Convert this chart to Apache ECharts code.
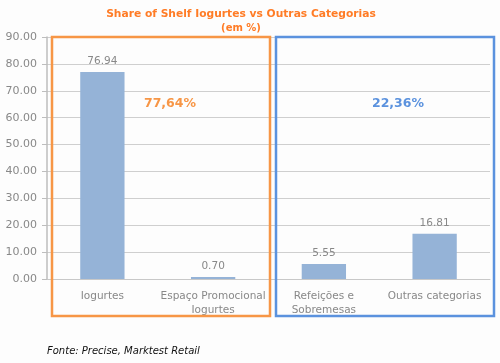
<!DOCTYPE html>
<html><head><meta charset="utf-8">
<script src="https://cdn.jsdelivr.net/npm/echarts@6/dist/echarts.min.js"></script>
<style>html,body{margin:0;padding:0;background:#fdfdfd}#c{width:500px;height:363px}</style>
</head><body><div id="c"></div>
<script>
const categories = ['Iogurtes', 'Espaço Promocional\nIogurtes', 'Refeições e\nSobremesas', 'Outras categorias'];
const values = [76.94, 0.70, 5.55, 16.81];
const groupLabels = ['77,64%', '22,36%'];
const yTicks = {min: 0, max: 90, interval: 10};

const chart = echarts.init(document.getElementById('c'));
const font = '"DejaVu Sans", Verdana, sans-serif';
chart.setOption({
  backgroundColor: '#fdfdfd',
  animation: false,
  grid: {left: 47, right: 10, top: 37, bottom: 84},
  xAxis: {
    type: 'category', data: categories,
    axisLine: {lineStyle: {color: '#c8c8c8', width: 1}},
    axisTick: {show: false},
    axisLabel: {color: '#888', fontSize: 10.5, fontFamily: font, margin: 10, lineHeight: 14, interval: 0}
  },
  yAxis: {
    type: 'value', min: yTicks.min, max: yTicks.max, interval: yTicks.interval,
    axisLine: {show: true, lineStyle: {color: '#bdbdbd', width: 1.5}},
    axisTick: {show: true, length: 5, lineStyle: {color: '#bdbdbd'}},
    splitLine: {lineStyle: {color: '#cfcfcf', width: 1}},
    axisLabel: {color: '#888', fontSize: 11, fontFamily: font, margin: 10,
      formatter: v => v.toFixed(2)}
  },
  series: [{
    type: 'bar', data: values, barWidth: '40%',
    itemStyle: {color: '#95b3d7'},
    label: {show: true, position: 'top', color: '#888', fontSize: 10.5, fontFamily: font, distance: 5,
      formatter: p => p.value.toFixed(2)}
  }],
  graphic: [
    {type: 'text', x: 241, y: 14, style: {text: 'Share of Shelf Iogurtes vs Outras Categorias', fill: '#ff7c26', font: 'bold 10.7px ' + font, textAlign: 'center', textVerticalAlign: 'middle'}, z: 100},
    {type: 'text', x: 241, y: 28, style: {text: '(em %)', fill: '#ff7c26', font: 'bold 10px ' + font, textAlign: 'center', textVerticalAlign: 'middle'}, z: 100},
    {type: 'rect', shape: {x: 52, y: 37, width: 218, height: 279}, style: {fill: 'none', stroke: '#f79646', lineWidth: 2.5}, z: 100},
    {type: 'rect', shape: {x: 276, y: 37, width: 218, height: 279}, style: {fill: 'none', stroke: '#5b92de', lineWidth: 2.5}, z: 100},
    {type: 'text', x: 170, y: 104, style: {text: groupLabels[0], fill: '#f79646', font: 'bold 12.5px ' + font, textAlign: 'center', textVerticalAlign: 'middle'}, z: 100},
    {type: 'text', x: 398, y: 104, style: {text: groupLabels[1], fill: '#5b92de', font: 'bold 12.5px ' + font, textAlign: 'center', textVerticalAlign: 'middle'}, z: 100},
    {type: 'text', x: 47, y: 351, style: {text: 'Fonte: Precise, Marktest Retail', fill: '#111', font: 'italic 10px ' + font, textAlign: 'left', textVerticalAlign: 'middle'}, z: 100}
  ]
});
</script></body></html>
